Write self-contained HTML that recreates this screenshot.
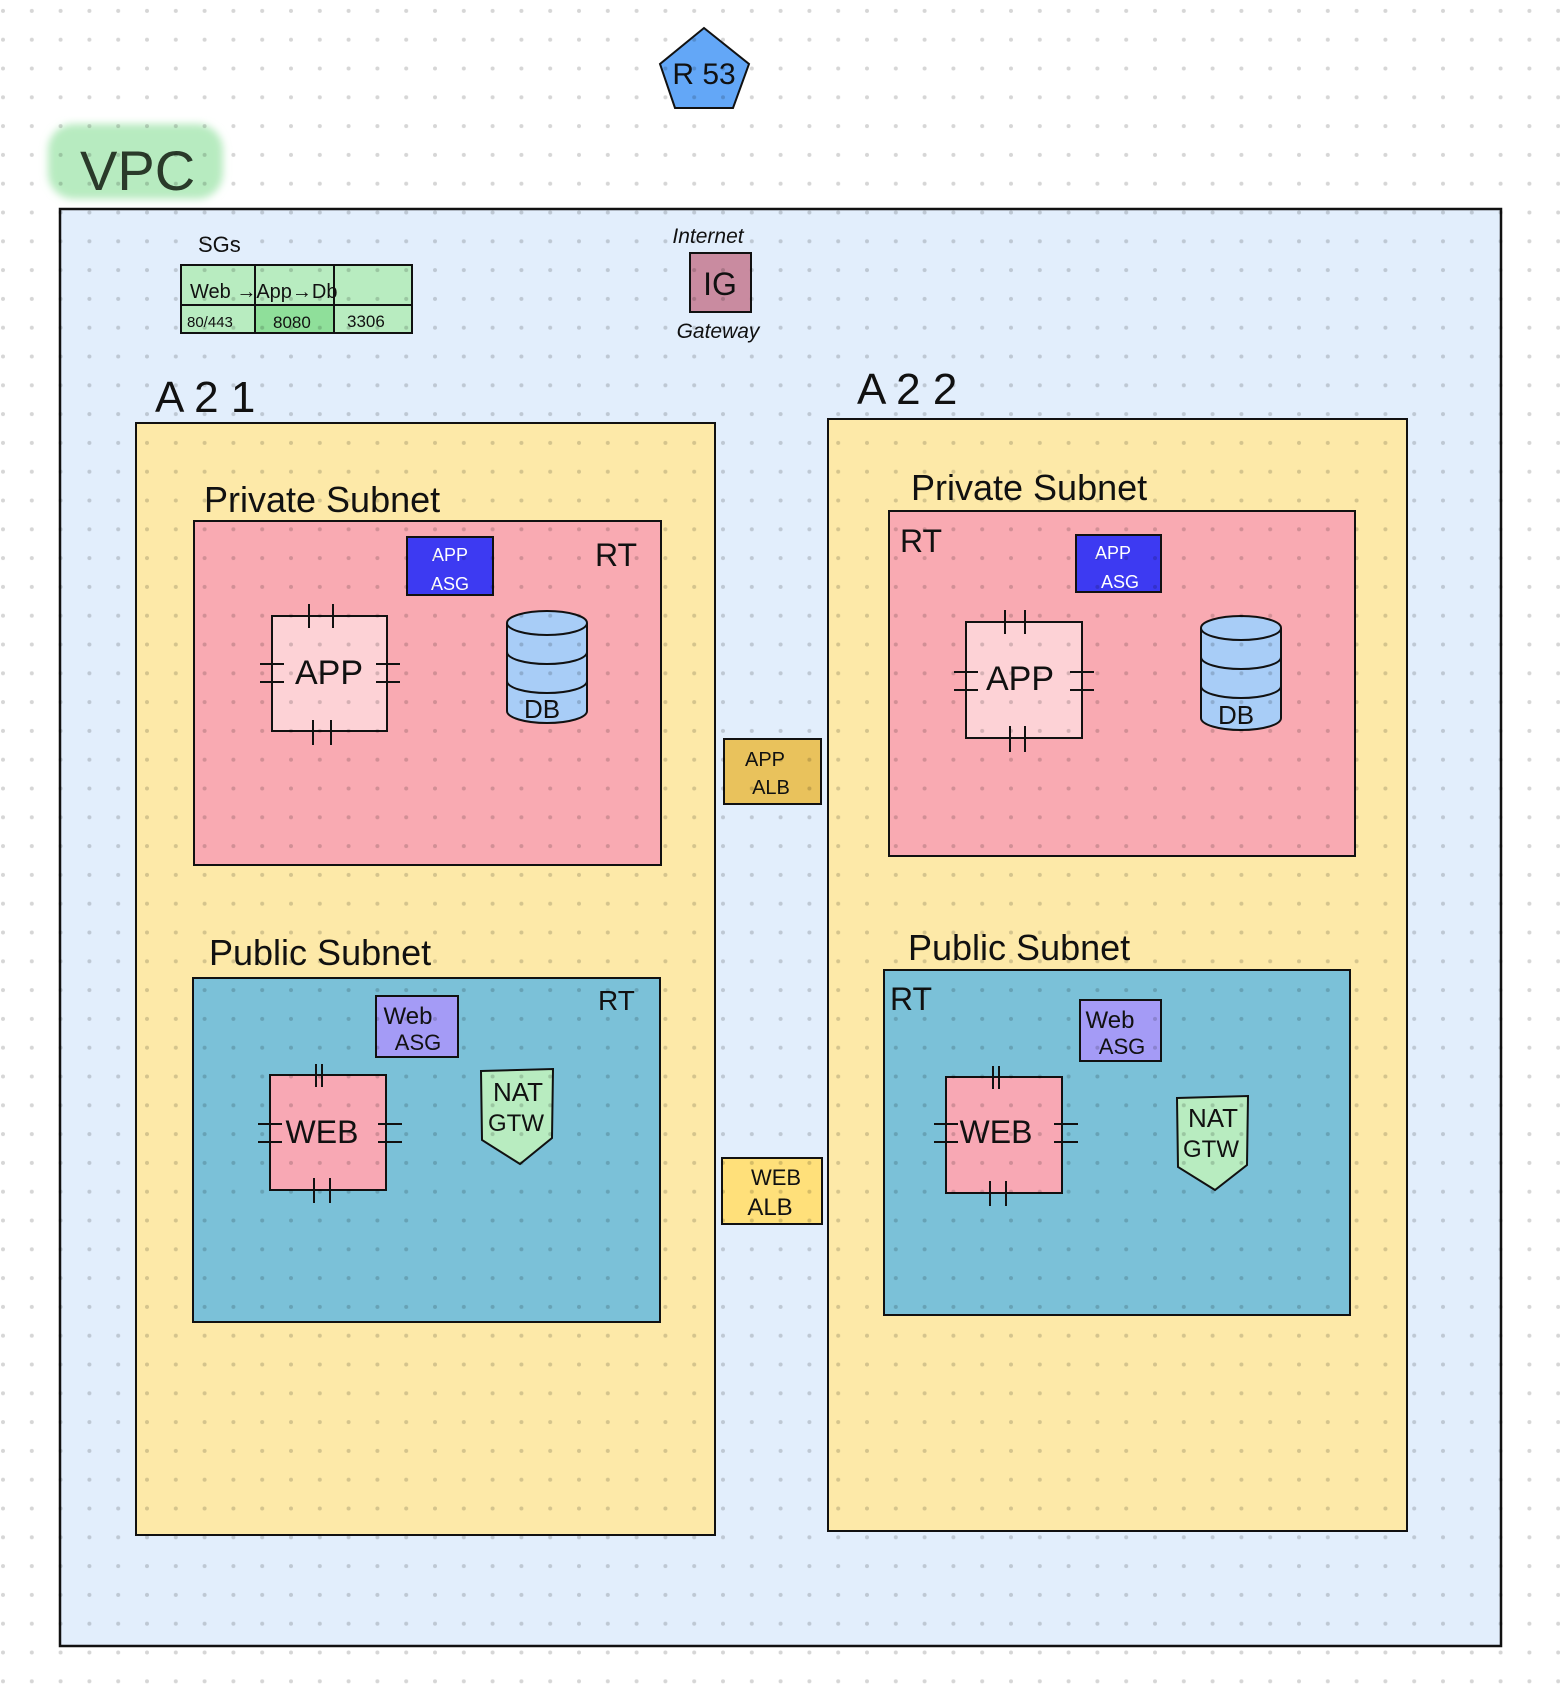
<!DOCTYPE html>
<html><head><meta charset="utf-8"><style>
html,body{margin:0;padding:0;background:#fff}
svg{display:block}
text{font-family:"Liberation Sans",sans-serif;fill:#111}
</style></head><body>
<svg width="1560" height="1700" viewBox="0 0 1560 1700" xmlns="http://www.w3.org/2000/svg">
<defs>
<pattern id="dots" x="3" y="10.9" width="28.8" height="28.8" patternUnits="userSpaceOnUse">
<circle cx="0" cy="0" r="2" fill="rgba(0,0,0,0.16)"/><circle cx="28.8" cy="0" r="2" fill="rgba(0,0,0,0.16)"/><circle cx="0" cy="28.8" r="2" fill="rgba(0,0,0,0.16)"/><circle cx="28.8" cy="28.8" r="2" fill="rgba(0,0,0,0.16)"/>
</pattern>
<filter id="blur"><feGaussianBlur stdDeviation="4"/></filter>
</defs>
<rect width="1560" height="1700" fill="#fff"/>

<!-- R53 -->
<polygon points="704,28 749,64 733,108 675,108 660,64" fill="#63a7f7" stroke="#111" stroke-width="2"/>
<text x="704" y="84" font-size="30" text-anchor="middle">R 53</text>

<!-- VPC label -->
<rect x="48" y="124" width="175" height="75" rx="26" fill="#b7ebc0" filter="url(#blur)"/>
<text x="80" y="190" font-size="56" fill="#222" style="fill:#2a3a2a">VPC</text>

<!-- VPC box -->
<rect x="60" y="209" width="1441" height="1437" fill="#e2eefc" stroke="#111" stroke-width="2.5"/>

<!-- SGs -->
<text x="198" y="252" font-size="22">SGs</text>
<rect x="181" y="265" width="231" height="68" fill="#b8ecc0" stroke="#111" stroke-width="2"/>
<rect x="255" y="305" width="80" height="28" fill="#8fdf9a"/>
<line x1="181" y1="305" x2="412" y2="305" stroke="#111" stroke-width="2"/>
<line x1="255" y1="265" x2="255" y2="333" stroke="#111" stroke-width="2"/>
<line x1="334" y1="265" x2="334" y2="333" stroke="#111" stroke-width="2"/>
<rect x="181" y="265" width="231" height="68" fill="none" stroke="#111" stroke-width="2"/>
<text x="190" y="298" font-size="20">Web →App→Db</text>
<text x="187" y="327" font-size="15">80/443</text>
<text x="273" y="328" font-size="17">8080</text>
<text x="347" y="327" font-size="17">3306</text>

<!-- IG -->
<text x="708" y="243" font-size="21" text-anchor="middle" font-style="italic">Internet</text>
<rect x="690" y="253" width="61" height="59" fill="#c98ba0" stroke="#111" stroke-width="2"/>
<text x="720" y="295" font-size="32" text-anchor="middle">IG</text>
<text x="718" y="338" font-size="21" text-anchor="middle" font-style="italic">Gateway</text>

<!-- AZ labels -->
<text x="155" y="412" font-size="44">A 2 1</text>
<text x="857" y="404" font-size="44">A 2 2</text>

<!-- AZ boxes -->
<rect x="136" y="423" width="579" height="1112" fill="#fde9a8" stroke="#111" stroke-width="2"/>
<rect x="828" y="419" width="579" height="1112" fill="#fde9a8" stroke="#111" stroke-width="2"/>

<!-- AZ1 private -->
<text x="204" y="512" font-size="36">Private  Subnet</text>
<rect x="194" y="521" width="467" height="344" fill="#f9aab2" stroke="#111" stroke-width="2"/>
<rect x="407" y="537" width="86" height="58" fill="#3d3af2" stroke="#111" stroke-width="2"/>
<text x="450" y="561" font-size="18" text-anchor="middle" style="fill:#fff">APP</text>
<text x="450" y="590" font-size="18" text-anchor="middle" style="fill:#fff">ASG</text>
<text x="595" y="566" font-size="32">RT</text>
<rect x="272" y="616" width="115" height="115" fill="#fdd2d6" stroke="#111" stroke-width="2"/>
<text x="329" y="684" font-size="34" text-anchor="middle">APP</text>
<g stroke="#111" stroke-width="2">
<line x1="309" y1="604" x2="309" y2="628"/><line x1="333" y1="604" x2="333" y2="628"/>
<line x1="313" y1="720" x2="313" y2="745"/><line x1="331" y1="720" x2="331" y2="745"/>
<line x1="260" y1="664" x2="284" y2="664"/><line x1="260" y1="682" x2="284" y2="682"/>
<line x1="376" y1="664" x2="400" y2="664"/><line x1="376" y1="682" x2="400" y2="682"/>
</g>
<g>
<path d="M507,623 v88 a40,12 0 0 0 80,0 v-88" fill="#a8cdf7" stroke="#111" stroke-width="2"/>
<ellipse cx="547" cy="623" rx="40" ry="12" fill="#a8cdf7" stroke="#111" stroke-width="2"/>
<path d="M507,652 a40,12 0 0 0 80,0 M507,681 a40,12 0 0 0 80,0" fill="none" stroke="#111" stroke-width="2"/>
<text x="542" y="718" font-size="26" text-anchor="middle">DB</text>
</g>

<!-- AZ1 public -->
<text x="209" y="965" font-size="36">Public  Subnet</text>
<rect x="193" y="978" width="467" height="344" fill="#7bc1d8" stroke="#111" stroke-width="2"/>
<rect x="376" y="996" width="82" height="61" fill="#a49bf6" stroke="#111" stroke-width="2"/>
<text x="408" y="1024" font-size="24" text-anchor="middle">Web</text>
<text x="418" y="1050" font-size="22" text-anchor="middle">ASG</text>
<text x="598" y="1010" font-size="28">RT</text>
<rect x="270" y="1075" width="116" height="115" fill="#f8a8b4" stroke="#111" stroke-width="2"/>
<text x="322" y="1143" font-size="32" text-anchor="middle">WEB</text>
<g stroke="#111" stroke-width="2">
<line x1="316" y1="1064" x2="316" y2="1087"/><line x1="322" y1="1064" x2="322" y2="1087"/>
<line x1="314" y1="1178" x2="314" y2="1203"/><line x1="330" y1="1178" x2="330" y2="1203"/>
<line x1="258" y1="1124" x2="282" y2="1124"/><line x1="258" y1="1142" x2="282" y2="1142"/>
<line x1="378" y1="1124" x2="402" y2="1124"/><line x1="378" y1="1142" x2="402" y2="1142"/>
</g>
<path d="M481,1071 L553,1069 L552,1138 L520,1164 L482,1140 Z" fill="#b8ecc0" stroke="#111" stroke-width="2"/>
<text x="518" y="1101" font-size="26" text-anchor="middle">NAT</text>
<text x="516" y="1131" font-size="24" text-anchor="middle">GTW</text>

<!-- ALBs -->
<rect x="724" y="739" width="97" height="65" fill="#e9c25c" stroke="#111" stroke-width="2"/>
<text x="765" y="766" font-size="20" text-anchor="middle">APP</text>
<text x="771" y="794" font-size="20" text-anchor="middle">ALB</text>
<rect x="722" y="1158" width="100" height="66" fill="#ffe07a" stroke="#111" stroke-width="2"/>
<text x="776" y="1185" font-size="22" text-anchor="middle">WEB</text>
<text x="770" y="1215" font-size="24" text-anchor="middle">ALB</text>

<!-- AZ2 private -->
<text x="911" y="500" font-size="36">Private  Subnet</text>
<rect x="889" y="511" width="466" height="345" fill="#f9aab2" stroke="#111" stroke-width="2"/>
<text x="900" y="552" font-size="32">RT</text>
<rect x="1076" y="535" width="85" height="57" fill="#3d3af2" stroke="#111" stroke-width="2"/>
<text x="1113" y="559" font-size="18" text-anchor="middle" style="fill:#fff">APP</text>
<text x="1120" y="588" font-size="18" text-anchor="middle" style="fill:#fff">ASG</text>
<rect x="966" y="622" width="116" height="116" fill="#fdd2d6" stroke="#111" stroke-width="2"/>
<text x="1020" y="690" font-size="34" text-anchor="middle">APP</text>
<g stroke="#111" stroke-width="2">
<line x1="1005" y1="610" x2="1005" y2="634"/><line x1="1025" y1="610" x2="1025" y2="634"/>
<line x1="1010" y1="726" x2="1010" y2="752"/><line x1="1025" y1="726" x2="1025" y2="752"/>
<line x1="954" y1="672" x2="978" y2="672"/><line x1="954" y1="690" x2="978" y2="690"/>
<line x1="1070" y1="672" x2="1094" y2="672"/><line x1="1070" y1="690" x2="1094" y2="690"/>
</g>
<g>
<path d="M1201,628 v90 a40,12 0 0 0 80,0 v-90" fill="#a8cdf7" stroke="#111" stroke-width="2"/>
<ellipse cx="1241" cy="628" rx="40" ry="12" fill="#a8cdf7" stroke="#111" stroke-width="2"/>
<path d="M1201,657 a40,12 0 0 0 80,0 M1201,686 a40,12 0 0 0 80,0" fill="none" stroke="#111" stroke-width="2"/>
<text x="1236" y="724" font-size="26" text-anchor="middle">DB</text>
</g>

<!-- AZ2 public -->
<text x="908" y="960" font-size="36">Public  Subnet</text>
<rect x="884" y="970" width="466" height="345" fill="#7bc1d8" stroke="#111" stroke-width="2"/>
<text x="890" y="1010" font-size="32">RT</text>
<rect x="1080" y="1000" width="81" height="61" fill="#a49bf6" stroke="#111" stroke-width="2"/>
<text x="1110" y="1028" font-size="24" text-anchor="middle">Web</text>
<text x="1122" y="1054" font-size="22" text-anchor="middle">ASG</text>
<rect x="946" y="1077" width="116" height="116" fill="#f8a8b4" stroke="#111" stroke-width="2"/>
<text x="996" y="1143" font-size="32" text-anchor="middle">WEB</text>
<g stroke="#111" stroke-width="2">
<line x1="993" y1="1066" x2="993" y2="1089"/><line x1="999" y1="1066" x2="999" y2="1089"/>
<line x1="990" y1="1181" x2="990" y2="1206"/><line x1="1006" y1="1181" x2="1006" y2="1206"/>
<line x1="934" y1="1124" x2="958" y2="1124"/><line x1="934" y1="1142" x2="958" y2="1142"/>
<line x1="1054" y1="1124" x2="1078" y2="1124"/><line x1="1054" y1="1142" x2="1078" y2="1142"/>
</g>
<path d="M1177,1098 L1248,1096 L1247,1165 L1215,1190 L1178,1167 Z" fill="#b8ecc0" stroke="#111" stroke-width="2"/>
<text x="1213" y="1127" font-size="26" text-anchor="middle">NAT</text>
<text x="1211" y="1157" font-size="24" text-anchor="middle">GTW</text>

<!-- dots overlay -->
<rect width="1560" height="1700" fill="url(#dots)"/>
</svg>
</body></html>
